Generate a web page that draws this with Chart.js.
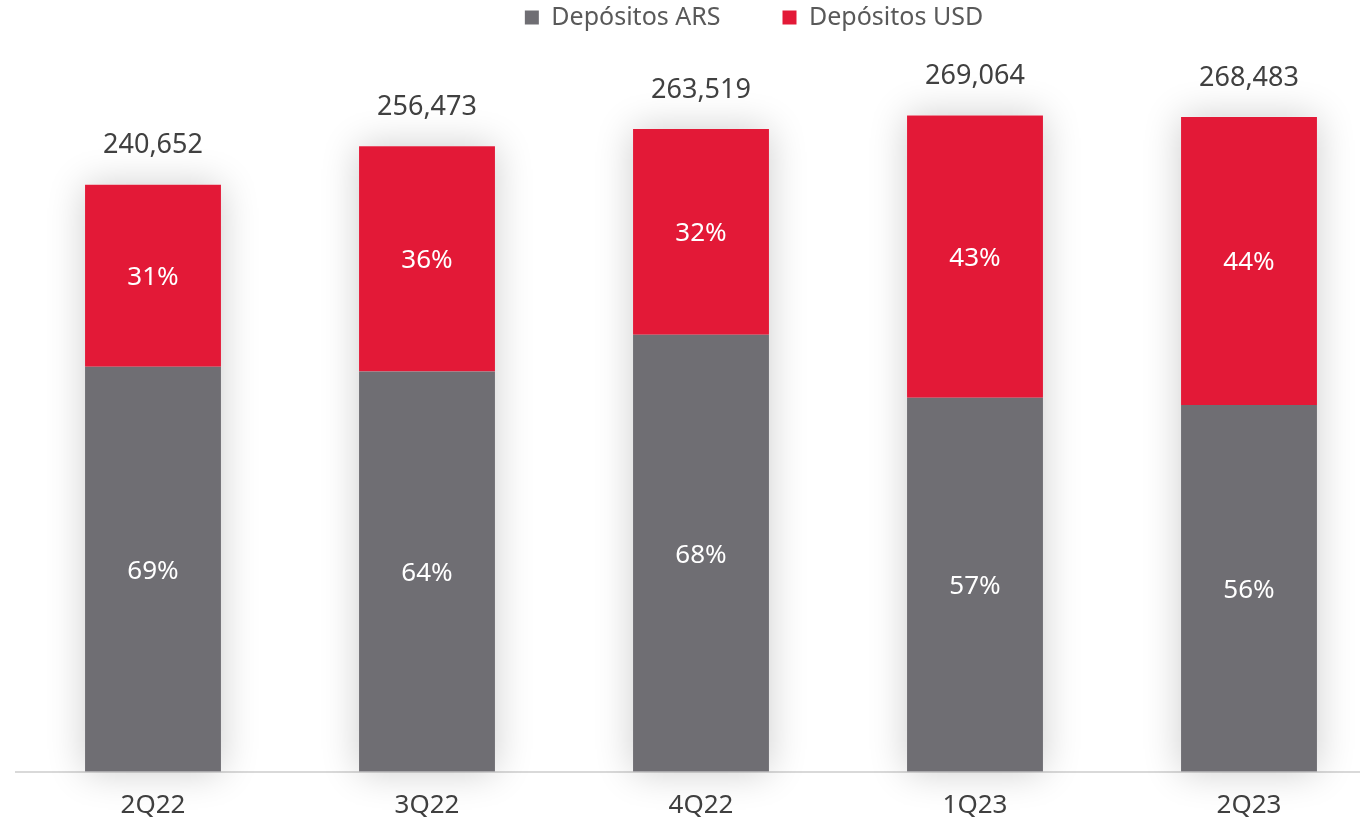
<!DOCTYPE html>
<html>
<head>
<meta charset="utf-8">
<script src="https://cdn.jsdelivr.net/npm/chart.js@4"></script>
<style>
  html, body { margin: 0; padding: 0; background: #fff; overflow: hidden; }
  #wrap { width: 1388px; height: 845px; }
</style>
</head>
<body>
<div id="wrap"><canvas id="myChartDepositos"></canvas></div>
<script>
const trimestres = ["2Q22", "3Q22", "4Q22", "1Q23", "2Q23"];
const depositosArs = [166050, 164143, 179193, 153366, 150350];
const depositosUsd = [74602, 92330, 84326, 115698, 118133];
const totali = [240652, 256473, 263519, 269064, 268483];

const GRIGIO = "#6f6e73";
const ROSSO = "#e31937";
const FONT = "'Noto Sans', 'Open Sans', sans-serif";

// ombra chiara dietro ogni colonna
const ombraBarre = {
    id: "ombraBarre",
    beforeDatasetsDraw(chart) {
        const ctx = chart.ctx;
        const meta = chart.getDatasetMeta(0);
        const y = chart.scales.y;
        ctx.save();
        ctx.shadowColor = "rgba(0,0,0,0.2)";
        ctx.shadowBlur = 36;
        ctx.fillStyle = "#ffffff";
        meta.data.forEach((bar, i) => {
            const top = y.getPixelForValue(totali[i]);
            const base = y.getPixelForValue(0);
            ctx.fillRect(bar.x - bar.width / 2, top, bar.width, base - top);
        });
        ctx.restore();
    }
};

// etichette: percentuali dentro e totale sopra
const etichette = {
    id: "etichette",
    afterDatasetsDraw(chart) {
        const ctx = chart.ctx;
        ctx.save();
        ctx.textAlign = "center";
        ctx.textBaseline = "middle";
        chart.data.datasets.forEach((ds, d) => {
            const meta = chart.getDatasetMeta(d);
            meta.data.forEach((bar, i) => {
                const pct = Math.round(ds.data[i] / totali[i] * 100) + "%";
                ctx.fillStyle = "#ffffff";
                ctx.font = "26px " + FONT;
                ctx.fillText(pct, bar.x, (bar.y + bar.base) / 2 + 2);
            });
        });
        const last = chart.getDatasetMeta(1);
        last.data.forEach((bar, i) => {
            ctx.fillStyle = "#404040";
            ctx.font = "27px " + FONT;
            ctx.fillText(totali[i].toLocaleString("en-US"), bar.x, bar.y - 39);
        });
        ctx.restore();
    }
};

// la legenda nell'originale e' un po' spostata a destra
const spostaLegenda = {
    id: "spostaLegenda",
    afterLayout(chart) {
        chart.legend.left += 53;
        chart.legend.right += 53;
    }
};

const ctx = document.getElementById("myChartDepositos");
const myChartDepositos = new Chart(ctx, {
    type: "bar",
    data: {
        labels: trimestres,
        datasets: [{
            label: "Depósitos ARS",
            data: depositosArs,
            backgroundColor: GRIGIO
        }, {
            label: "Depósitos USD",
            data: depositosUsd,
            backgroundColor: ROSSO
        }]
    },
    options: {
        responsive: true,
        maintainAspectRatio: false,
        animation: false,
        layout: {
            // la spaziatura della legenda sposta tutto in basso, si compensa qui
            padding: { left: 16, right: 2, top: -57, bottom: 6 }
        },
        datasets: {
            bar: {
                barPercentage: 1,
                categoryPercentage: 0.496
            }
        },
        scales: {
            x: {
                stacked: true,
                grid: {
                    color: "transparent",
                    drawTicks: false
                },
                border: {
                    color: "#d9d9d9",
                    width: 2
                },
                ticks: {
                    color: "#404040",
                    padding: 18,
                    font: { size: 26, family: FONT }
                }
            },
            y: {
                stacked: true,
                display: false,
                min: 0,
                max: 300000
            }
        },
        plugins: {
            legend: {
                position: "top",
                labels: {
                    boxWidth: 14,
                    boxHeight: 14,
                    padding: 62,
                    color: "#595959",
                    font: { size: 25, family: FONT }
                }
            },
            tooltip: { enabled: false }
        }
    },
    plugins: [ombraBarre, etichette, spostaLegenda]
});
</script>
</body>
</html>
